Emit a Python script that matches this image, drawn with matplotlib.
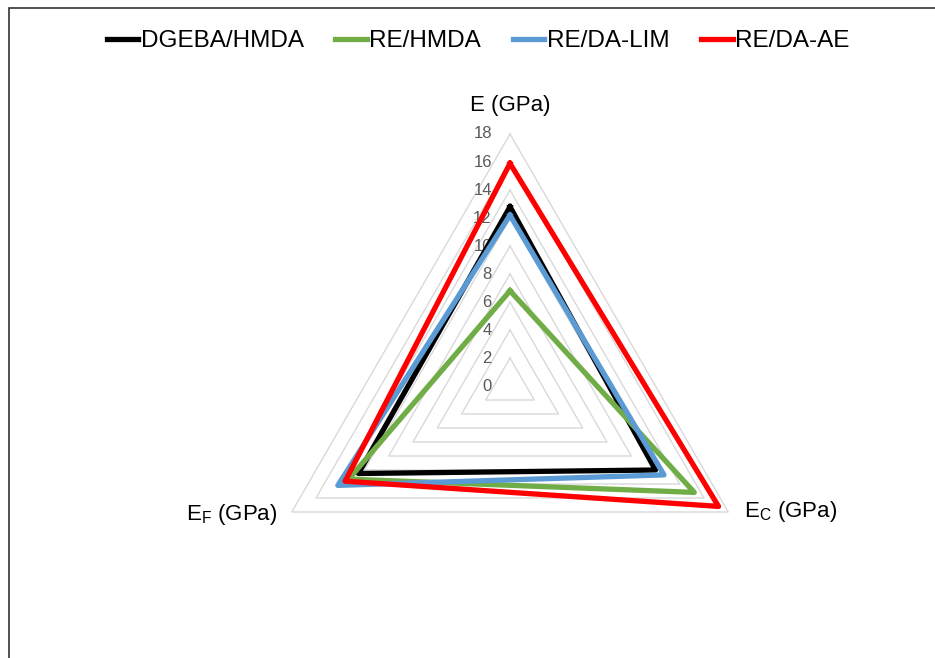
import numpy as np
import matplotlib
matplotlib.use("Agg")
import matplotlib.pyplot as plt
from matplotlib.patches import Rectangle

plt.rcParams['font.family'] = ['Liberation Sans', 'DejaVu Sans']

axes_labels = ["E (GPa)", "E$_\\mathregular{C}$ (GPa)", "E$_\\mathregular{F}$ (GPa)"]
series_names = ["DGEBA/HMDA", "RE/HMDA", "RE/DA-LIM", "RE/DA-AE"]
dgeba_hmda = [12.8, 12.0, 12.5]
re_hmda = [6.8, 15.2, 13.3]
re_da_lim = [12.2, 12.7, 14.2]
re_da_ae = [15.9, 17.2, 13.6]
series_values = [dgeba_hmda, re_hmda, re_da_lim, re_da_ae]
colors = ["#000000", "#70AD47", "#5B9BD5", "#FF0000"]
ticks = list(range(0, 20, 2))
rmax = 18

W, H = 935, 658
fig = plt.figure(figsize=(W / 100, H / 100), dpi=100)
ax = fig.add_axes([0, 0, 1, 1])
cx, cy, scale = 510, 386, 14.0
ax.set_xlim(-cx / scale, (W - cx) / scale)
ax.set_ylim(-(H - cy) / scale, cy / scale)
ax.axis('off')

angles = np.deg2rad([90, -30, 210])

def to_xy(vals):
    v = np.asarray(vals, dtype=float)
    x = v * np.cos(angles)
    y = v * np.sin(angles)
    return np.append(x, x[0]), np.append(y, y[0])

# grid triangles
for t in ticks[1:]:
    gx, gy = to_xy([t, t, t])
    ax.plot(gx, gy, color="#d9d9d9", lw=1.0, zorder=1)

# tick labels
for t in ticks:
    ax.text(-1.3, t, str(t), ha='right', va='center', fontsize=12,
            color="#595959", zorder=2)

# series
for vals, col, name in zip(series_values, colors, series_names):
    sx, sy = to_xy(vals)
    ax.plot(sx, sy, color=col, lw=3.8, solid_joinstyle='round',
            label=name, zorder=3)

# axis labels
ax.text(0, rmax + 2.0, axes_labels[0], ha='center', va='center', fontsize=16)
ex, ey = rmax * np.cos(angles[1]), rmax * np.sin(angles[1])
ax.text(ex + 1.1, ey - 0.0, axes_labels[1], ha='left', va='center', fontsize=16)
fx, fy = rmax * np.cos(angles[2]), rmax * np.sin(angles[2])
ax.text(fx - 1.0, fy - 0.2, axes_labels[2], ha='right', va='center', fontsize=16)

fig.legend(loc='center', bbox_to_anchor=(478 / W, 1 - 41 / H), ncol=4,
           frameon=False, fontsize=17.5, handlelength=1.3, handletextpad=0.1,
           columnspacing=1.3)

fig.patches.append(Rectangle((8.5 / W, -0.1), 1.2, 1.1 - 7.5 / H,
                             transform=fig.transFigure, fill=False,
                             edgecolor="#333333", lw=1.2))

fig.savefig("out.png", dpi=100)
